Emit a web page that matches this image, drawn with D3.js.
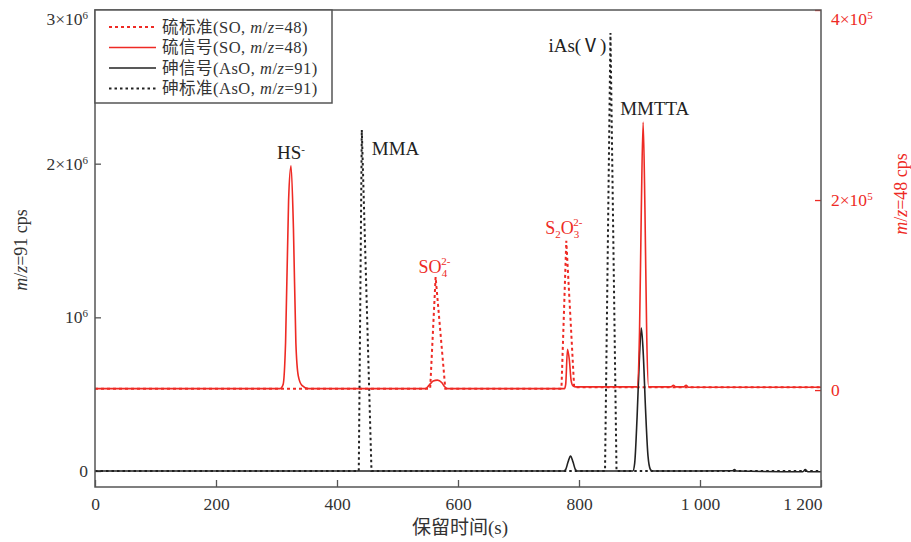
<!DOCTYPE html>
<html>
<head>
<meta charset="utf-8">
<script src="https://cdn.jsdelivr.net/npm/d3@7"></script>
<style>
  body { margin: 0; background: #fff; }
  text { font-family: "Liberation Serif", "Times New Roman", "Noto Sans CJK SC", serif; }
</style>
</head>
<body>
<div id="chart"></div>
<script>
////////////////// data ////////////////////////////////////

// arsenic signal (AsO, m/z=91), [time (s), cps]  -> left axis
const asSignal = [
  [0, 0], [775, 0], [778, 0.01e6], [782, 0.06e6], [786, 0.098e6], [790, 0.06e6], [794, 0.01e6], [797, 0],
  [889, 0], [892, 0.05e6], [896, 0.35e6], [900, 0.75e6], [903, 0.93e6], [906, 0.78e6], [910, 0.4e6],
  [914, 0.1e6], [918, 0.01e6], [921, 0],
  [1000, 0], [1054, 0.002e6], [1057, 0.01e6], [1060, 0.0], [1170, -0.005e6], [1174, 0.01e6],
  [1178, -0.005e6], [1200, -0.005e6]
];

// arsenic standard (AsO, m/z=91) -> left axis
const asStandard = [
  [0, 0], [436, 0], [441, 2.22e6], [457, 0], [843, 0], [852, 2.85e6], [862, 0], [1200, 0]
];

// sulfur signal (SO, m/z=48), [time (s), cps] -> right axis
const sSignal = [
  [0, 0.015e5], [306, 0.015e5], [311, 0.06e5], [315, 0.5e5], [320, 2.0e5], [324, 2.36e5], [328, 1.7e5],
  [332, 0.5e5], [336, 0.15e5], [342, 0.05e5], [353, 0.015e5],
  [546, 0.015e5], [552, 0.05e5], [559, 0.095e5], [566, 0.105e5], [573, 0.08e5], [578, 0.035e5], [583, 0.015e5],
  [776, 0.015e5], [778, 0.06e5], [781, 0.43e5], [784, 0.32e5], [787, 0.1e5], [790, 0.045e5], [795, 0.034e5],
  [896, 0.034e5], [900, 0.6e5], [903, 1.9e5], [906, 2.82e5], [909, 1.9e5], [912, 0.55e5], [915, 0.034e5],
  [952, 0.034e5], [956, 0.05e5], [960, 0.034e5], [973, 0.034e5], [977, 0.05e5], [981, 0.03e5], [1200, 0.03e5]
];

// sulfur standard (SO, m/z=48) -> right axis
const sStandard = [
  [0, 0.015e5], [554, 0.015e5], [563, 1.19e5], [579, 0.015e5],
  [771, 0.015e5], [779, 1.57e5], [792, 0.03e5], [1200, 0.03e5]
];

// axis ticks
const xTicks = [0, 200, 400, 600, 800, 1000, 1200];
const xTickLabels = ["0", "200", "400", "600", "800", "1 000", "1 200"];
const leftTicks = [0, 1e6, 2e6, 3e6];
const leftTickLabels = [["0", ""], ["10", "6"], ["2×10", "6"], ["3×10", "6"]];
const rightTicks = [0, 2e5, 4e5];
const rightTickLabels = [["0", ""], ["2×10", "5"], ["4×10", "5"]];

// legend
const legendNames = ["硫标准", "硫信号", "砷信号", "砷标准"];
const legendIons = ["SO", "SO", "AsO", "AsO"];
const legendMz = ["48", "48", "91", "91"];

////////////////// setup ////////////////////////////////////

const width = 911, height = 542;
const margin = {top: 10, right: 90, bottom: 55, left: 95};
const plotW = width - margin.left - margin.right,
      plotH = height - margin.top - margin.bottom;

const red = "#ee2a24", black = "#222", frame = "#555";
const serif = '"Liberation Serif", "Times New Roman", "Noto Sans CJK SC", serif';

let svg = d3.select("#chart")
            .append("svg")
            .attr("width", width)
            .attr("height", height)
            .append("g")
            .attr("transform", `translate(${margin.left},${margin.top})`);

let x = d3.scaleLinear().domain([0, 1200]).range([0, plotW]);
let yL = d3.scaleLinear().domain([-0.104e6, 3e6]).range([plotH, 0]);
let yR = d3.scaleLinear().domain([-1.02e5, 4e5]).range([plotH, 0]);

////////////////// axes ////////////////////////////////////

// bottom axis, ticks point inward
let xAxis = svg.append("g")
               .attr("transform", `translate(0,${plotH})`)
               .call(d3.axisBottom(x)
                       .tickValues(xTicks)
                       .tickSize(-7)
                       .tickPadding(11)
                       .tickFormat((d, i) => xTickLabels[i]));
xAxis.attr("font-family", serif);
xAxis.select(".domain").remove();
xAxis.selectAll(".tick line").attr("stroke", frame).attr("stroke-width", 1.3);
xAxis.selectAll(".tick text").attr("font-size", "17.5px").attr("fill", "#333");
xAxis.selectAll(".tick text").filter((d, i) => i === xTicks.length - 1)
     .attr("text-anchor", "end").attr("x", 1);

// writes "a×10" + superscript into a tick label
function sciText(sel, labels) {
  sel.each(function(d, i) {
    let t = d3.select(this).text("");
    t.append("tspan").text(labels[i][0]);
    if (labels[i][1]) {
      t.append("tspan").attr("dy", "-0.55em").attr("font-size", "11px").text(labels[i][1]);
    }
    if (i === labels.length - 1) t.attr("transform", "translate(0,9)");
  });
}

let leftAxis = svg.append("g")
                  .call(d3.axisLeft(yL)
                          .tickValues(leftTicks)
                          .tickSize(-6)
                          .tickPadding(7));
leftAxis.attr("font-family", serif);
leftAxis.select(".domain").remove();
leftAxis.selectAll(".tick line").attr("stroke", frame).attr("stroke-width", 1.3);
leftAxis.selectAll(".tick text").attr("font-size", "17.5px").attr("fill", "#333")
        .call(sciText, leftTickLabels);

let rightAxis = svg.append("g")
                   .attr("transform", `translate(${plotW},0)`)
                   .call(d3.axisRight(yR)
                           .tickValues(rightTicks)
                           .tickSize(-6)
                           .tickPadding(10));
rightAxis.attr("font-family", serif);
rightAxis.select(".domain").remove();
rightAxis.selectAll(".tick line").attr("stroke", red).attr("stroke-width", 1.3);
rightAxis.selectAll(".tick text").attr("font-size", "17.5px").attr("fill", red)
         .call(sciText, rightTickLabels);

////////////////// lines ////////////////////////////////////

let lineL = d3.line().x(d => x(d[0])).y(d => yL(d[1]));
let lineR = d3.line().x(d => x(d[0])).y(d => yR(d[1]));

// standards (dotted, straight segments)
svg.append("path")
   .datum(sStandard)
   .attr("fill", "none")
   .attr("stroke", red)
   .attr("stroke-width", 2)
   .attr("stroke-dasharray", "3,3")
   .attr("d", lineR.curve(d3.curveLinear));

svg.append("path")
   .datum(asStandard)
   .attr("fill", "none")
   .attr("stroke", black)
   .attr("stroke-width", 2)
   .attr("stroke-dasharray", "2.5,3")
   .attr("d", lineL.curve(d3.curveLinear));

// signals (solid)
svg.append("path")
   .datum(asSignal)
   .attr("fill", "none")
   .attr("stroke", black)
   .attr("stroke-width", 1.6)
   .attr("d", lineL.curve(d3.curveMonotoneX));

svg.append("path")
   .datum(sSignal)
   .attr("fill", "none")
   .attr("stroke", red)
   .attr("stroke-width", 1.6)
   .attr("d", lineR.curve(d3.curveMonotoneX));

// frame
svg.append("rect")
   .attr("width", plotW)
   .attr("height", plotH)
   .attr("fill", "none")
   .attr("stroke", frame)
   .attr("stroke-width", 1.5);

////////////////// peak labels ////////////////////////////////////

// HS-
let hs = svg.append("text")
            .attr("x", x(324)).attr("y", yR(2.36e5) - 7)
            .attr("text-anchor", "middle")
            .attr("font-size", "19px").attr("fill", black);
hs.append("tspan").text("HS");
hs.append("tspan").attr("dy", "-0.55em").attr("font-size", "11px").text("-");

// MMA
svg.append("text")
   .attr("x", x(441) + 10).attr("y", yL(2.22e6) + 25)
   .attr("font-size", "19px").attr("fill", black)
   .text("MMA");

// iAs(V)
svg.append("text")
   .attr("x", x(852) - 4).attr("y", yL(2.85e6) + 19)
   .attr("text-anchor", "end")
   .attr("font-size", "19px").attr("fill", black)
   .text("iAs(Ⅴ)");

// MMTTA
svg.append("text")
   .attr("x", x(906) - 23).attr("y", yR(2.82e5) - 7)
   .attr("font-size", "19px").attr("fill", black)
   .text("MMTTA");

// SO4 2-
let so4 = svg.append("text")
             .attr("x", x(563) - 17).attr("y", yR(1.19e5) - 4)
             .attr("font-size", "18px").attr("fill", red);
so4.append("tspan").text("SO");
so4.append("tspan").attr("dy", 4).attr("font-size", "11px").text("4");
so4.append("tspan").attr("dx", -6).attr("dy", -12).attr("font-size", "11px").text("2-");

// S2O3 2-
let s2o3 = svg.append("text")
              .attr("x", x(779) - 21).attr("y", yR(1.57e5) - 7)
              .attr("font-size", "18px").attr("fill", red);
s2o3.append("tspan").text("S");
s2o3.append("tspan").attr("dy", 4).attr("font-size", "11px").text("2");
s2o3.append("tspan").attr("dy", -4).text("O");
s2o3.append("tspan").attr("dy", 4).attr("font-size", "11px").text("3");
s2o3.append("tspan").attr("dx", -6).attr("dy", -12).attr("font-size", "11px").text("2-");

////////////////// axis titles ////////////////////////////////////

svg.append("text")
   .attr("x", plotW / 2 + 2).attr("y", plotH + 47)
   .attr("text-anchor", "middle")
   .attr("font-size", "19px").attr("fill", "#333")
   .text("保留时间(s)");

let lt = svg.append("text")
            .attr("transform", `translate(-68,${240}) rotate(-90)`)
            .attr("text-anchor", "middle")
            .attr("font-size", "18px").attr("fill", "#333");
lt.append("tspan").attr("font-style", "italic").text("m");
lt.append("tspan").text("/");
lt.append("tspan").attr("font-style", "italic").text("z");
lt.append("tspan").text("=91 cps");

let rt = svg.append("text")
            .attr("transform", `translate(${plotW + 86},${184}) rotate(-90)`)
            .attr("text-anchor", "middle")
            .attr("font-size", "18px").attr("fill", red);
rt.append("tspan").attr("font-style", "italic").text("m");
rt.append("tspan").text("/");
rt.append("tspan").attr("font-style", "italic").text("z");
rt.append("tspan").text("=48 cps");

////////////////// legend ////////////////////////////////////

let legend = svg.append("g");
legend.append("rect")
      .attr("width", 237)
      .attr("height", 93)
      .attr("fill", "#fff")
      .attr("stroke", frame)
      .attr("stroke-width", 1.5);

const legendColor = [red, red, black, black],
      legendDash = ["3,3", null, null, "2.5,3"];

legendNames.forEach(function(name, i) {
  let row = legend.append("g").attr("transform", `translate(0,${17 + i * 20.5})`);
  row.append("line")
     .attr("x1", 14).attr("x2", 61)
     .attr("stroke", legendColor[i])
     .attr("stroke-width", legendDash[i] ? 1.8 : 1.6)
     .attr("stroke-dasharray", legendDash[i]);
  let t = row.append("text")
             .attr("x", 67).attr("dy", "0.35em")
             .attr("font-size", "16.5px").attr("letter-spacing", "0.5px").attr("fill", "#333");
  t.append("tspan").text(name + "(" + legendIons[i] + ", ");
  t.append("tspan").attr("font-style", "italic").text("m");
  t.append("tspan").text("/");
  t.append("tspan").attr("font-style", "italic").text("z");
  t.append("tspan").text("=" + legendMz[i] + ")");
});
</script>
</body>
</html>
